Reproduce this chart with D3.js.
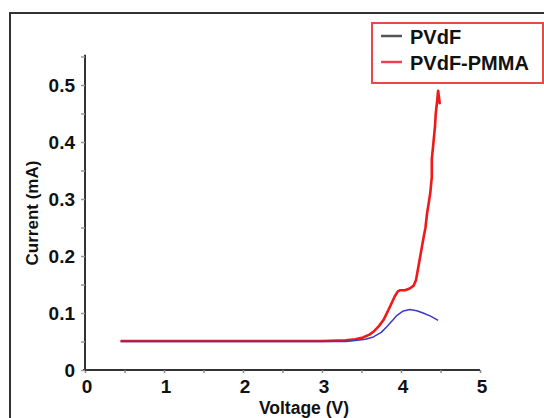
<!DOCTYPE html>
<html>
<head>
<meta charset="utf-8">
<script src="https://cdn.jsdelivr.net/npm/d3@7"></script>
<style>
  body { margin: 0; background: #fff; }
  text { font-family: Arial, "Liberation Sans", sans-serif; font-weight: bold; }
</style>
</head>
<body>
<div id="chart"></div>
<script>
// values
const pvdfV = [0.45, 1.0, 2.0, 3.0, 3.3, 3.45, 3.55, 3.65, 3.75, 3.82, 3.9, 3.95, 4.02, 4.11, 4.2, 4.28, 4.38, 4.47];
const pvdfI = [0.05, 0.05, 0.05, 0.05, 0.05, 0.052, 0.054, 0.058, 0.066, 0.076, 0.088, 0.096, 0.103, 0.106, 0.104, 0.1, 0.094, 0.087];
const pmmaV = [0.45, 1.0, 2.0, 3.0, 3.3, 3.42, 3.52, 3.6, 3.65, 3.72, 3.78, 3.86, 3.92, 3.96, 3.99, 4.05, 4.11, 4.16, 4.19, 4.22, 4.28, 4.31, 4.33, 4.35, 4.37, 4.39, 4.39, 4.41, 4.43, 4.44, 4.46, 4.47, 4.49, 4.47];
const pmmaI = [0.051, 0.051, 0.051, 0.051, 0.052, 0.054, 0.057, 0.062, 0.067, 0.077, 0.088, 0.111, 0.129, 0.138, 0.14, 0.14, 0.143, 0.148, 0.158, 0.181, 0.228, 0.25, 0.275, 0.292, 0.31, 0.339, 0.37, 0.398, 0.427, 0.45, 0.475, 0.49, 0.468, 0.478];
const seriesNames = ["PVdF", "PVdF-PMMA"];
const xTicks = [0, 1, 2, 3, 4, 5];
const yTicks = [0, 0.1, 0.2, 0.3, 0.4, 0.5];

const W = 544, H = 418;
const svg = d3.select("#chart").append("svg").attr("width", W).attr("height", H);

// outer frame (runs off the right/bottom of the picture)
svg.append("rect").attr("x", 10).attr("y", 13).attr("width", 560).attr("height", 430)
  .attr("fill", "none").attr("stroke", "#333").attr("stroke-width", 2);

const x = d3.scaleLinear().domain([0, 5]).range([85, 480]);
const y = d3.scaleLinear().domain([0, 0.5]).range([370, 85]);

// axes
const xAxis = svg.append("g").attr("transform", "translate(0,370)")
  .call(d3.axisBottom(x).tickValues(d3.range(0, 5.01, 0.5)).tickSize(3).tickFormat(""));
xAxis.select(".domain").attr("stroke", "#333").attr("stroke-width", 2).attr("d", `M${x(0) - 2},0H${x(5)}`);
xAxis.selectAll(".tick line").attr("stroke", "#888").attr("stroke-width", 1.5);

const yAxis = svg.append("g").attr("transform", "translate(85,0)")
  .call(d3.axisLeft(y).tickValues(d3.range(0, 0.551, 0.05)).tickSize(4).tickFormat(""));
yAxis.select(".domain").attr("stroke", "#333").attr("stroke-width", 2).attr("d", `M0,${y(0) + 1}V${y(0.553)}`);
yAxis.selectAll(".tick line").attr("stroke", "#999").attr("stroke-width", 1.5);

svg.append("g").selectAll("text").data(xTicks).join("text")
  .attr("x", d => x(d) + 2).attr("y", 393).attr("text-anchor", "middle")
  .attr("font-size", 19).attr("fill", "#111").text(d => d);

svg.append("g").selectAll("text").data(yTicks).join("text")
  .attr("x", 75).attr("y", d => y(d) + 7).attr("text-anchor", "end")
  .attr("font-size", 19).attr("fill", "#111").text(d => d === 0 ? "0" : d.toFixed(1));

svg.append("text").attr("x", 304).attr("y", 414).attr("text-anchor", "middle")
  .attr("font-size", 17.5).attr("fill", "#111").text("Voltage (V)");
svg.append("text").attr("transform", "translate(38,213) rotate(-90)").attr("text-anchor", "middle")
  .attr("font-size", 17).attr("fill", "#111").text("Current (mA)");

// curves
const line = d3.line().x(d => x(d[0])).y(d => y(d[1]));
svg.append("path").datum(d3.zip(pmmaV, pmmaI)).attr("d", line)
  .attr("fill", "none").attr("stroke", "#f01818").attr("stroke-width", 2.6).attr("stroke-linejoin", "round");
svg.append("path").datum(d3.zip(pvdfV, pvdfI)).attr("d", line)
  .attr("fill", "none").attr("stroke", "#3a3ac8").attr("stroke-width", 1.5).attr("stroke-linejoin", "round");

// legend
svg.append("rect").attr("x", 372).attr("y", 23).attr("width", 171).attr("height", 60)
  .attr("fill", "#fff").attr("stroke", "#e84848").attr("stroke-width", 2);
const legColors = ["#555", "#f04050"];
const leg = svg.append("g").selectAll("g").data(seriesNames).join("g")
  .attr("transform", (d, i) => `translate(0,${36 + i * 26})`);
leg.append("line").attr("x1", 381).attr("x2", 402).attr("y1", 0).attr("y2", 0)
  .attr("stroke", (d, i) => legColors[i]).attr("stroke-width", 2.5);
leg.append("text").attr("x", 410).attr("y", 8).attr("font-size", 20).attr("fill", "#111").text(d => d);
</script>
</body>
</html>
